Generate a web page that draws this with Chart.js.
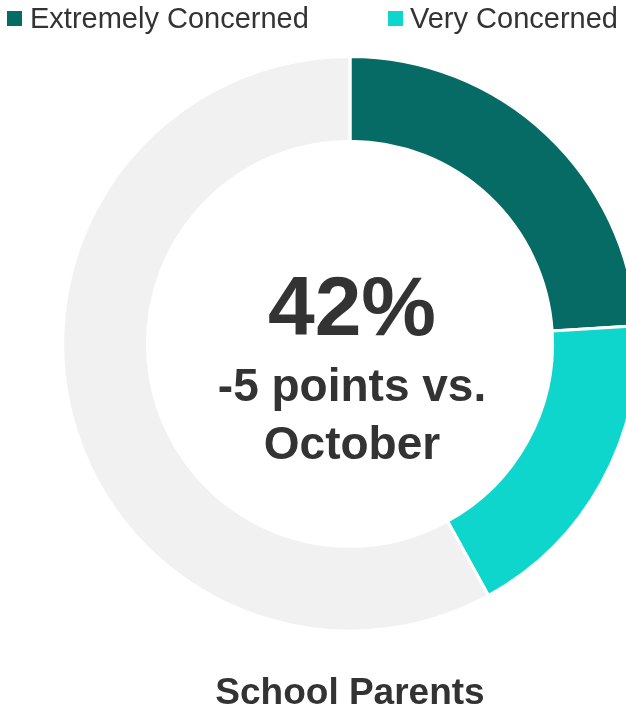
<!DOCTYPE html>
<html>
<head>
<meta charset="utf-8">
<script src="https://cdn.jsdelivr.net/npm/chart.js@4.4.0/dist/chart.umd.min.js"></script>
<style>
  html, body { margin: 0; padding: 0; background: #fff; overflow: hidden; width: 626px; height: 710px; }
  #wrap { position: relative; width: 626px; height: 710px; overflow: hidden; }
  #c { position: absolute; left: 0; top: 0; }
  .lg { position: absolute; font-family: "Liberation Sans", Arial, sans-serif; font-size: 29px; line-height: 29px; color: #333; white-space: nowrap; }
  .bx { position: absolute; width: 15px; height: 15px; }
</style>
</head>
<body>
<div id="wrap">
  <canvas id="c" width="700" height="710" style="width:700px;height:710px"></canvas>
</div>
<script>
const categories = ['Extremely Concerned', 'Very Concerned', 'Not very / not concerned'];
const values = [24, 18, 58];
const legendLabels = ['Extremely Concerned', 'Very Concerned'];
const centerValue = '42%';
const centerLines = ['-5 points vs.', 'October'];
const chartTitle = 'School Parents';

const sliceColors = ['#076b65', '#0fd6cc', '#f1f1f1'];

// HTML legend built from the data arrays
const wrap = document.getElementById('wrap');
const legendPos = [{ box: 7, text: 30 }, { box: 388, text: 410 }];
legendLabels.forEach((lab, i) => {
  const b = document.createElement('div');
  b.className = 'bx';
  b.style.left = legendPos[i].box + 'px';
  b.style.top = '11px';
  b.style.background = sliceColors[i];
  wrap.appendChild(b);
  const t = document.createElement('div');
  t.className = 'lg';
  t.style.left = legendPos[i].text + 'px';
  t.style.top = '4px';
  t.textContent = lab;
  wrap.appendChild(t);
});

const centerText = {
  id: 'centerText',
  afterDraw(chart) {
    const meta = chart.getDatasetMeta(0);
    const arc = meta.data[0];
    const cx = arc.x + 2, cy = arc.y;
    const ctx = chart.ctx;
    ctx.save();
    ctx.fillStyle = '#333333';
    ctx.textAlign = 'center';
    ctx.textBaseline = 'alphabetic';
    ctx.font = 'bold 84px "Liberation Sans", Arial, sans-serif';
    ctx.fillText(centerValue, cx, cy - 9);
    ctx.font = 'bold 46px "Liberation Sans", Arial, sans-serif';
    ctx.fillText(centerLines[0], cx, cy + 57);
    ctx.fillText(centerLines[1], cx, cy + 115);
    ctx.restore();
  }
};

new Chart(document.getElementById('c'), {
  type: 'doughnut',
  data: {
    labels: categories,
    datasets: [{
      data: values,
      backgroundColor: sliceColors,
      borderColor: '#ffffff',
      borderWidth: 3,
      hoverOffset: 0
    }]
  },
  options: {
    responsive: false,
    animation: false,
    cutout: '70.5%',
    layout: { padding: { top: 55, bottom: 0, left: 0, right: 0 } },
    plugins: {
      legend: { display: false },
      tooltip: { enabled: false },
      title: {
        display: true,
        position: 'bottom',
        text: chartTitle,
        color: '#333333',
        font: { family: '"Liberation Sans", Arial, sans-serif', size: 37, weight: 'bold', lineHeight: 1.2 },
        padding: { top: 39, bottom: -6 }
      }
    }
  },
  plugins: [centerText]
});
</script>
</body>
</html>
